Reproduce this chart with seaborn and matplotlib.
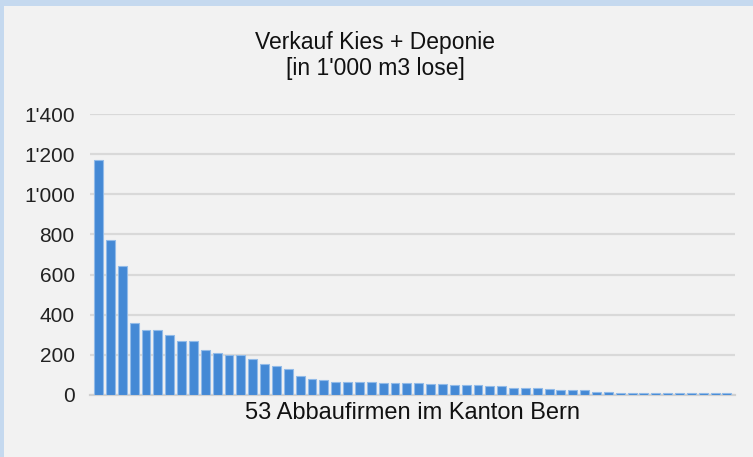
import matplotlib
matplotlib.use("Agg")
import matplotlib.pyplot as plt
import matplotlib.patches as mpatches
from matplotlib.ticker import FuncFormatter
import seaborn as sns
import pandas as pd

title_lines = ["Verkauf Kies + Deponie", "[in 1'000 m3 lose]"]
x_label = "53 Abbaufirmen im Kanton Bern"
values = [1170, 770, 645, 358, 325, 325, 298, 267, 267, 222, 208, 197, 197, 178,
          153, 145, 132, 93, 80, 73, 67, 67, 67, 67, 62, 62, 62, 62, 57, 57,
          50, 50, 50, 43, 43, 36, 36, 36, 30, 23, 23, 23, 17, 17, 12,
          10, 10, 10, 10, 10, 10, 10, 10, 10]
firms = [f"F{i + 1}" for i in range(len(values))]
y_ticks = [0, 200, 400, 600, 800, 1000, 1200, 1400]

df = pd.DataFrame({"firm": firms, "value": values})

sns.set_theme(style="white")
plt.rcParams["font.family"] = ["Liberation Sans", "DejaVu Sans"]

fig = plt.figure(figsize=(7.53, 4.57), dpi=100)
fig.patch.set_facecolor("#c5d9ef")
panel = mpatches.Rectangle((4 / 753, 0), 1, 1 - 6 / 457, transform=fig.transFigure,
                           facecolor="#f2f2f2", edgecolor="none", zorder=-10)
fig.patches.append(panel)

ax = fig.add_axes([90 / 753, 1 - 395 / 457, 645 / 753, (395 - 114) / 457])
ax.set_facecolor("none")

sns.barplot(data=df, x="firm", y="value", ax=ax, color="#4489d5", width=0.75,
            saturation=1, edgecolor="#92bbe8", linewidth=0.8, zorder=3)

ax.set_ylim(0, 1400)
ax.set_xlim(-0.72, len(values) - 1 + 0.68)
ax.set_yticks(y_ticks)
ax.yaxis.set_major_formatter(FuncFormatter(lambda v, p: f"{int(v):,}".replace(",", "'")))
ax.set_xticks([])
ax.grid(axis="y", color="#d9d9d9", linewidth=1.6, zorder=0)
ax.set_axisbelow(True)
for s in ["top", "right", "left"]:
    ax.spines[s].set_visible(False)
ax.spines["bottom"].set_color("#d0d0d0")
ax.spines["bottom"].set_linewidth(1.6)
ax.tick_params(axis="y", length=0, pad=11, labelsize=15, labelcolor="#222222")
ax.set_ylabel("")
ax.set_xlabel(x_label, fontsize=17, color="#111111", labelpad=5)

fig.text(375 / 753, 1 - 43 / 457, title_lines[0], ha="center", va="center",
         fontsize=16.5, color="#111111")
fig.text(375 / 753, 1 - 69 / 457, title_lines[1], ha="center", va="center",
         fontsize=16.5, color="#111111")

fig.savefig("out.png", dpi=100, facecolor=fig.get_facecolor())
